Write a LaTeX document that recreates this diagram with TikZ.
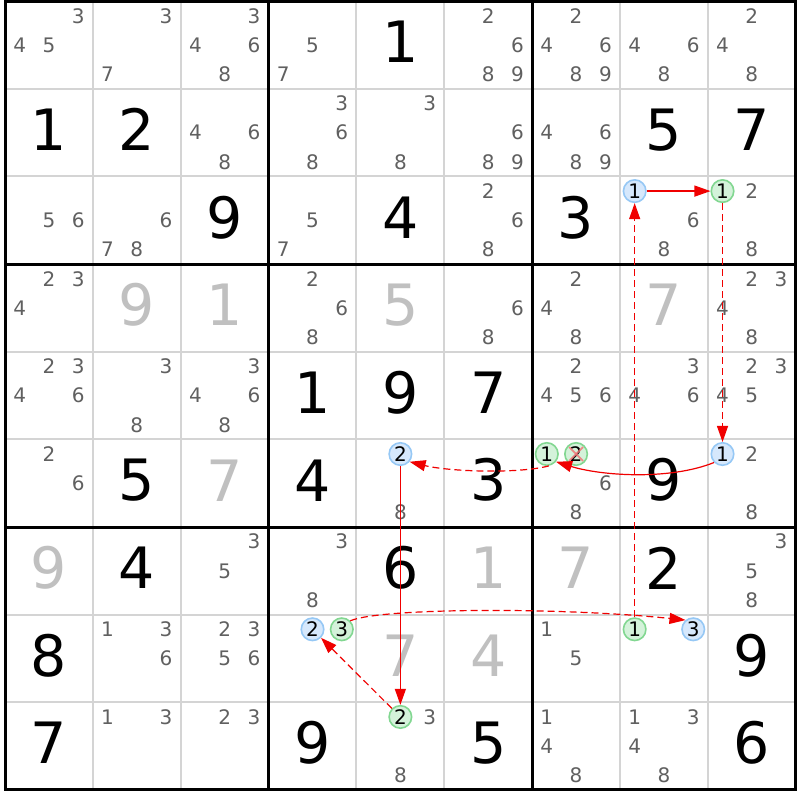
\documentclass[tikz,border=0pt]{standalone}
\usepackage{fontspec}
\setmainfont{DejaVu Sans}
\usetikzlibrary{arrows.meta}
\definecolor{candgray}{RGB}{96,96,96}
\definecolor{solvedgray}{RGB}{192,192,192}
\definecolor{gridgray}{RGB}{212,212,212}
\definecolor{bluefill}{RGB}{214,232,252}
\definecolor{blueline}{RGB}{150,200,245}
\definecolor{greenfill}{RGB}{212,242,218}
\definecolor{greenline}{RGB}{130,215,145}
\definecolor{linkred}{RGB}{240,0,0}
\definecolor{xpink}{RGB}{240,120,120}
\begin{document}
\begin{tikzpicture}[x=1pt,y=-1pt,
  cand/.style={inner sep=0pt, text=candgray, font=\fontsize{20}{20}\selectfont},
  given/.style={inner sep=0pt, text=black, font=\fontsize{57}{57}\selectfont},
  solved/.style={given, text=solvedgray},
  bluecand/.style={circle, draw=blueline, fill=bluefill, line width=1.6pt, minimum size=22.5pt, inner sep=0pt, text=black, font=\fontsize{20}{20}\selectfont},
  greencand/.style={bluecand, draw=greenline, fill=greenfill},
  stronglink/.style={draw=linkred, line width=1.2pt, -{Triangle[length=16pt,width=11pt]}},
  weaklink/.style={stronglink, dash pattern=on 7pt off 4pt},
  xmark/.style={draw=xpink, line width=1.8pt, opacity=0.85},
  thingrid/.style={draw=gridgray, line width=2pt},
  thickgrid/.style={draw=black, line width=3pt, line cap=rect},
]
\def\GX{5}\def\GY{1.2}\def\CW{87.86}\def\CH{87.64}
\useasboundingbox (0,0) rectangle (800,800);
\fill[white] (0,0) rectangle (800,800);
% grid
\foreach \i in {1,2,4,5,7,8} {
  \draw[thingrid] ({\GX+\i*\CW},\GY) -- ({\GX+\i*\CW},{\GY+9*\CH});
  \draw[thingrid] (\GX,{\GY+\i*\CH}) -- ({\GX+9*\CW},{\GY+\i*\CH});
}
\foreach \i in {0,3,6,9} {
  \draw[thickgrid] ({\GX+\i*\CW},\GY) -- ({\GX+\i*\CW},{\GY+9*\CH});
  \draw[thickgrid] (\GX,{\GY+\i*\CH}) -- ({\GX+9*\CW},{\GY+\i*\CH});
}
% candidates
\foreach \r/\c/\ds in {1/1/{3,4,5}, 1/2/{3,7}, 1/3/{3,4,6,8}, 1/4/{5,7}, 1/6/{2,6,8,9}, 1/7/{2,4,6,8,9}, 1/8/{4,6,8}, 1/9/{2,4,8},
  2/3/{4,6,8}, 2/4/{3,6,8}, 2/5/{3,8}, 2/6/{6,8,9}, 2/7/{4,6,8,9},
  3/1/{5,6}, 3/2/{6,7,8}, 3/4/{5,7}, 3/6/{2,6,8}, 3/8/{6,8}, 3/9/{2,8},
  4/1/{2,3,4}, 4/4/{2,6,8}, 4/6/{6,8}, 4/7/{2,4,8}, 4/9/{2,3,4,8},
  5/1/{2,3,4,6}, 5/2/{3,8}, 5/3/{3,4,6,8}, 5/7/{2,4,5,6}, 5/8/{3,4,6}, 5/9/{2,3,4,5},
  6/1/{2,6}, 6/5/{8}, 6/7/{6,8}, 6/9/{2,8},
  7/3/{3,5}, 7/4/{3,8}, 7/9/{3,5,8},
  8/2/{1,3,6}, 8/3/{2,3,5,6}, 8/7/{1,5},
  9/2/{1,3}, 9/3/{2,3}, 9/5/{3,8}, 9/7/{1,4,8}, 9/8/{1,3,4,8}} {
  \foreach \k in \ds {
    \pgfmathsetmacro\px{\GX+(\c-1)*\CW+(mod(\k-1,3)+0.5)*\CW/3}
    \pgfmathsetmacro\py{\GY+(\r-1)*\CH+(floor((\k-1)/3)+0.5)*\CH/3}
    \node[cand] (n\r\c\k) at (\px,\py) {\k};
  }
}
% given digits
\foreach \r/\c/\d in {1/5/1, 2/1/1, 2/2/2, 2/8/5, 2/9/7, 3/3/9, 3/5/4, 3/7/3, 5/4/1, 5/5/9, 5/6/7, 6/2/5, 6/4/4, 6/6/3, 6/8/9, 7/2/4, 7/5/6, 7/8/2, 8/1/8, 8/9/9, 9/1/7, 9/4/9, 9/6/5, 9/9/6}
  \node[given] (g\r\c) at ({\GX+(\c-0.5)*\CW},{\GY+(\r-0.5)*\CH-3}) {\d};
\foreach \r/\c/\d in {4/2/9, 4/3/1, 4/5/5, 4/8/7, 6/3/7, 7/1/9, 7/6/1, 7/7/7, 8/5/7, 8/6/4}
  \node[solved] (s\r\c) at ({\GX+(\c-0.5)*\CW},{\GY+(\r-0.5)*\CH-3}) {\d};
% highlighted candidates
\node[bluecand]  (L1)  at (634.66,191.09) {1};
\node[greencand] (L2)  at (722.52,191.09) {1};
\node[bluecand]  (L3)  at (722.52,454.01) {1};
\node[greencand] (L4)  at (546.80,454.01) {1};
\node[greencand] (L4x) at (576.09,454.01) {2};
\node[bluecand]  (L5)  at (400.37,454.01) {2};
\node[greencand] (L6)  at (400.37,716.93) {2};
\node[bluecand]  (L7)  at (312.51,629.29) {2};
\node[greencand] (L8)  at (341.80,629.29) {3};
\node[bluecand]  (L9)  at (693.24,629.29) {3};
\node[greencand] (L10) at (634.66,629.29) {1};
\draw[xmark] ([shift={(-7,-7)}]L4x.center) -- ([shift={(7,7)}]L4x.center);
\draw[xmark] ([shift={(-7,7)}]L4x.center) -- ([shift={(7,-7)}]L4x.center);
% links
\draw[stronglink] (L1) -- (L2);
\draw[weaklink] (L2) -- (L3);
\draw[stronglink] (L3.225) .. controls +(-45,18) and +(45,14) .. (L4.-40);
\draw[weaklink] (L4.-80) .. controls +(-30,8) and +(40,10) .. (L5.-40);
\draw[stronglink] (L5) -- (L6);
\draw[weaklink] (L6) -- (L7);
\draw[weaklink] (L8.45) .. controls +(30,-13) and +(-125,-13) .. (L9.130);
\draw[weaklink] (L10) -- (L1);
\end{tikzpicture}
\end{document}
